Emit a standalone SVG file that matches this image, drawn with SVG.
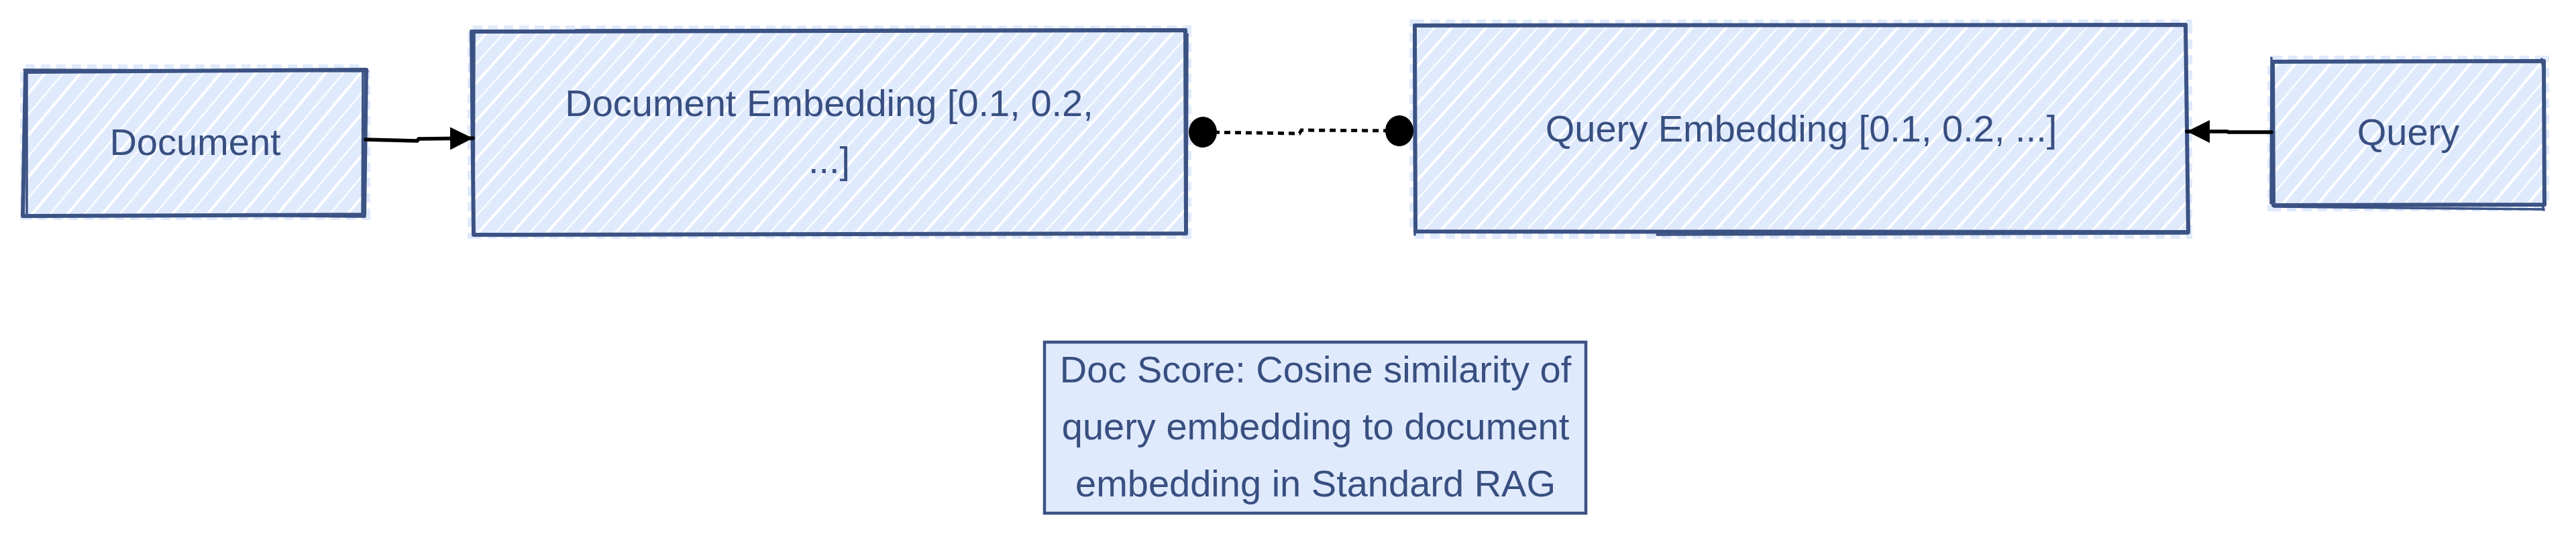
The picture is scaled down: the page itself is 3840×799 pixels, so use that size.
<svg xmlns="http://www.w3.org/2000/svg" width="3840" height="799" viewBox="0 0 3840 799">
  <defs>
    <pattern id="hatchA" patternUnits="userSpaceOnUse" width="40" height="40" patternTransform="rotate(40)">
      <rect width="40" height="40" fill="#e0eafd"/>
      <line x1="2" y1="0" x2="2" y2="40" stroke="#ffffff" stroke-width="4"/>
      <line x1="22" y1="0" x2="22" y2="40" stroke="#ffffff" stroke-width="2.2"/>
    </pattern>
    <pattern id="hatchB" patternUnits="userSpaceOnUse" width="38" height="38" patternTransform="rotate(42)">
      <rect width="38" height="38" fill="#e0eafd"/>
      <line x1="2" y1="0" x2="2" y2="38" stroke="#ffffff" stroke-width="4"/>
      <line x1="21" y1="0" x2="21" y2="38" stroke="#ffffff" stroke-width="2"/>
    </pattern>
    <marker id="arrow" markerUnits="userSpaceOnUse" markerWidth="34" markerHeight="34" viewBox="0 0 32 32" refX="32" refY="16" orient="auto">
      <path d="M0,0 L32,16 L0,32 Z" fill="#000000"/>
    </marker>
    <marker id="dot" markerUnits="userSpaceOnUse" markerWidth="46" markerHeight="48" viewBox="0 0 46 48" refX="23" refY="24" orient="auto">
      <ellipse cx="23" cy="24" rx="21" ry="23" fill="#000000"/>
    </marker>
  </defs>
  <style>
    .halo { fill: none; stroke: #e0eafd; stroke-width: 16; stroke-dasharray: 14 9; }
    .outline { fill: none; stroke: #3b5283; stroke-width: 6; stroke-linejoin: round; stroke-linecap: round; }
    .outline2 { fill: none; stroke: #3b5283; stroke-width: 3.5; stroke-linecap: round; }
    .label { font-family: "Liberation Sans", Arial, Helvetica, sans-serif; font-size: 56px; fill: #384f80; text-anchor: middle; }
    .conn { fill: none; stroke: #000000; stroke-width: 5.5; stroke-linecap: round; stroke-linejoin: round; }
    .dotted { fill: none; stroke: #000000; stroke-width: 5; stroke-dasharray: 9 7; }
  </style>
  <rect width="3840" height="799" fill="#ffffff"/>

  <g id="node-document">
    <rect class="halo" x="38" y="104" width="506" height="216"/>
    <rect x="38" y="104" width="506" height="216" fill="url(#hatchA)"/>
    <path class="outline" d="M38 107 L546 104 L543 320 L34 322 Z"/>
    <path class="outline2" d="M40 110 L40 318 M36 104 L548 106 M544 323 L352 321 M541 108 L540 318"/>
    <text class="label" x="291" y="231">Document</text>
  </g>

  <g id="node-doc-embedding">
    <rect class="halo" x="705" y="46" width="1063" height="302"/>
    <rect x="705" y="46" width="1063" height="302" fill="url(#hatchB)"/>
    <path class="outline" d="M703 47 L1767 45 L1768 348 L706 350 Z"/>
    <path class="outline2" d="M707 50 L706 346 M1770 51 L1769 347 M858 45 L1768 44"/>
    <text class="label" x="1236" y="173">Document Embedding [0.1, 0.2,</text>
    <text class="label" x="1236" y="258">...]</text>
  </g>

  <g id="node-query-embedding">
    <rect class="halo" x="2109" y="37" width="1151" height="311"/>
    <rect x="2109" y="37" width="1151" height="311" fill="url(#hatchB)"/>
    <path class="outline" d="M2109 38 L3258 37 L3262 346 L2110 345 Z"/>
    <path class="outline2" d="M2108 40 L2109 350 M2470 350 L3262 348 M3259 36 L3261 340"/>
    <text class="label" x="2685" y="211">Query Embedding [0.1, 0.2, ...]</text>
  </g>

  <g id="node-query">
    <rect class="halo" x="3388" y="91" width="404" height="216"/>
    <rect x="3388" y="91" width="404" height="216" fill="url(#hatchA)"/>
    <path class="outline" d="M3388 92 L3792 91 L3793 305 L3389 306 Z"/>
    <path class="outline2" d="M3386 86 L3385 303 M3790 305 L3792 313 M3390 308 L3792 312 M3789 88 L3790 96"/>
    <text class="label" x="3590" y="216">Query</text>
  </g>

  <g id="node-doc-score">
    <rect x="1557" y="510" width="807" height="255" fill="#e0eafd" stroke="#3b5283" stroke-width="4.5"/>
    <text class="label" x="1961" y="570">Doc Score: Cosine similarity of</text>
    <text class="label" x="1961" y="655">query embedding to document</text>
    <text class="label" x="1961" y="740">embedding in Standard RAG</text>
  </g>

  <g id="connectors">
    <path class="conn" d="M545 208 L622 210 L624 207 L705 206" marker-end="url(#arrow)"/>
    <path class="conn" d="M3386 197 L3322 197 L3320 196 L3260 196" marker-end="url(#arrow)"/>
    <path class="dotted" d="M1793 197 L1937 199 L1940 194 L2086 195" marker-start="url(#dot)" marker-end="url(#dot)"/>
  </g>
</svg>
